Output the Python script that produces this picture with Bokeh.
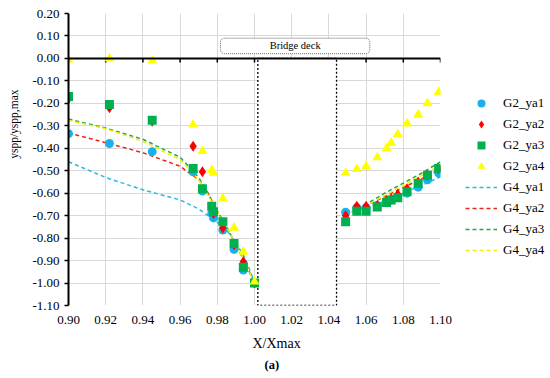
import math
from bokeh.plotting import figure
from bokeh.models import Range1d, FixedTicker, NumeralTickFormatter, Legend, LegendItem, Span, Title
from bokeh.core.properties import value
from bokeh.embed import file_html
from bokeh.resources import INLINE

# ---------------- data ----------------
x_g2_left = [0.900, 0.922, 0.945, 0.967, 0.972, 0.977, 0.978, 0.983, 0.989, 0.994, 1.000]
x_g2_right = [1.049, 1.055, 1.060, 1.066, 1.071, 1.0735, 1.077, 1.082, 1.088, 1.093, 1.099]

g2_ya1_left = [-0.335, -0.379, -0.415, -0.505, -0.59, -0.69, -0.71, -0.764, -0.85, -0.942, -1.00]
g2_ya1_right = [-0.685, -0.665, -0.665, -0.655, -0.640, -0.630, -0.620, -0.600, -0.573, -0.540, -0.510]
g2_ya2_left = [-0.18, -0.22, -0.28, -0.391, -0.504, -0.67, -0.69, -0.755, -0.83, -0.905, -1.00]
g2_ya2_right = [-0.700, -0.658, -0.658, -0.655, -0.635, -0.625, -0.605, -0.580, -0.550, -0.520, -0.490]
g2_ya3_left = [-0.17, -0.205, -0.275, -0.49, -0.58, -0.658, -0.683, -0.727, -0.824, -0.93, -1.00]
g2_ya3_right = [-0.727, -0.680, -0.680, -0.661, -0.641, -0.630, -0.620, -0.594, -0.557, -0.520, -0.490]
g2_ya4_left = [-0.005, 0.0, -0.01, -0.295, -0.413, -0.498, -0.51, -0.624, -0.754, -0.861, -0.994]
g2_ya4_right = [-0.510, -0.493, -0.479, -0.441, -0.400, -0.376, -0.338, -0.290, -0.250, -0.200, -0.150]

x_g4_left = [0.90, 0.92, 0.94, 0.96, 0.97, 0.975, 0.98, 0.985, 0.99, 0.995, 1.00]
x_g4_right = [1.049, 1.06, 1.07, 1.08, 1.09, 1.10]

g4_ya1_left = [-0.46, -0.53, -0.585, -0.63, -0.67, -0.70, -0.73, -0.765, -0.82, -0.89, -0.995]
g4_ya1_right = [-0.685, -0.665, -0.635, -0.600, -0.565, -0.527]
g4_ya2_left = [-0.332, -0.375, -0.42, -0.48, -0.54, -0.60, -0.68, -0.75, -0.83, -0.91, -1.00]
g4_ya2_right = [-0.700, -0.655, -0.615, -0.575, -0.535, -0.490]
g4_ya3_left = [-0.27, -0.31, -0.36, -0.44, -0.53, -0.60, -0.68, -0.75, -0.83, -0.91, -1.00]
g4_ya3_right = [-0.700, -0.650, -0.600, -0.555, -0.510, -0.460]
g4_ya4_left = [-0.276, -0.313, -0.37, -0.45, -0.54, -0.61, -0.68, -0.75, -0.83, -0.91, -1.00]
g4_ya4_right = [-0.700, -0.655, -0.610, -0.565, -0.520, -0.475]

x_ticks = [0.90, 0.92, 0.94, 0.96, 0.98, 1.00, 1.02, 1.04, 1.06, 1.08, 1.10]
y_ticks = [-1.10, -1.00, -0.90, -0.80, -0.70, -0.60, -0.50, -0.40, -0.30, -0.20, -0.10, 0.00, 0.10, 0.20]

deck_x = [1.0018, 1.0441]
deck_y = [-1.10, 0.0]
deck_label_box_x = [0.9817, 1.0620]
deck_label_box_y = [0.021, 0.090]
deck_label = "Bridge deck"

x_title = "X/Xmax"
y_title = "yspp/yspp,max"
panel_tag = "(a)"

FONT = "'Liberation Serif', 'Times New Roman', serif"

# ---------------- figure ----------------
p = figure(frame_width=372, frame_height=292,
           min_border_left=68, min_border_right=110, min_border_top=13, min_border_bottom=0,
           x_range=Range1d(0.90, 1.10), y_range=Range1d(-1.10, 0.20),
           output_backend="svg", toolbar_location=None)
p.outline_line_color = None
p.background_fill_color = "white"
p.border_fill_color = "white"

p.xaxis.ticker = FixedTicker(ticks=x_ticks)
p.yaxis.ticker = FixedTicker(ticks=y_ticks)
p.xaxis.formatter = NumeralTickFormatter(format="0.00")
p.yaxis.formatter = NumeralTickFormatter(format="0.00")
for ax in (p.xaxis, p.yaxis):
    ax.major_label_text_font = FONT
    ax.major_label_text_font_size = "13px"
    ax.major_label_text_color = "black"
    ax.minor_tick_line_color = None
p.xaxis.axis_line_color = None
p.xaxis.major_tick_line_color = None
p.xaxis.major_tick_out = 0
p.xaxis.major_tick_in = 0
p.xaxis.major_label_standoff = 10
p.yaxis.axis_line_color = "black"
p.yaxis.axis_line_width = 2
p.yaxis.major_tick_line_color = "black"
p.yaxis.major_tick_line_width = 1.5
p.yaxis.major_tick_out = 4
p.yaxis.major_tick_in = 0
p.yaxis.major_label_standoff = 5

p.xgrid.grid_line_color = "#D9D9D9"
p.ygrid.grid_line_color = "#D9D9D9"

# horizontal axis line at y = 0 with ticks
p.add_layout(Span(location=0, dimension="width", line_color="black", line_width=2))
p.segment(x0=x_ticks, y0=[0] * len(x_ticks), x1=x_ticks, y1=[-0.018] * len(x_ticks),
          line_color="black", line_width=1.5)

# bridge deck box
p.quad(left=deck_x[0], right=deck_x[1], bottom=deck_y[0], top=deck_y[1],
       fill_color="white", line_color="black", line_dash="2 2", line_width=1.3)
p.quad(left=deck_label_box_x[0], right=deck_label_box_x[1],
       bottom=deck_label_box_y[0], top=deck_label_box_y[1], border_radius=4,
       fill_color="white", line_color="#666666", line_dash="1 1", line_width=1)
p.text(x=[(deck_label_box_x[0] + deck_label_box_x[1]) / 2],
       y=[(deck_label_box_y[0] + deck_label_box_y[1]) / 2],
       text=[deck_label], text_font=value(FONT), text_font_size="10.5px",
       text_align="center", text_baseline="middle", text_color="black")

nan = float("nan")

def join(a, b):
    return a + [nan] + b

line_specs = [
    ("G4_ya1", g4_ya1_left, g4_ya1_right, "#2BB8E3"),
    ("G4_ya2", g4_ya2_left, g4_ya2_right, "#E8281C"),
    ("G4_ya3", g4_ya3_left, g4_ya3_right, "#21A845"),
    ("G4_ya4", g4_ya4_left, g4_ya4_right, "#F2F000"),
]
line_renderers = []
for name, yl, yr, col in line_specs:
    r = p.line(join(x_g4_left, x_g4_right), join(yl, yr), line_color=col,
               line_width=1.5, line_dash="4 3")
    line_renderers.append((name, r))

marker_specs = [
    ("G2_ya1", g2_ya1_left, g2_ya1_right, "#1CB0EA", "circle", 9),
    ("G2_ya2", g2_ya2_left, g2_ya2_right, "#FF0000", "diamond", 11),
    ("G2_ya3", g2_ya3_left, g2_ya3_right, "#00B050", "square", 9),
    ("G2_ya4", g2_ya4_left, g2_ya4_right, "#FFFF00", "triangle", 10),
]
marker_renderers = []
for name, yl, yr, col, mk, sz in marker_specs:
    r = p.scatter(x_g2_left + x_g2_right, yl + yr, marker=mk, size=sz,
                  fill_color=col, line_color=None)
    marker_renderers.append((name, r))

legend = Legend(items=[LegendItem(label=n, renderers=[r]) for n, r in marker_renderers + line_renderers],
                location=(25, 45), border_line_color=None, background_fill_alpha=0,
                padding=0, margin=0, spacing=1, label_height=20, glyph_height=20,
                glyph_width=32, label_standoff=6, label_text_font=FONT,
                label_text_font_size="13px", label_text_color="black")
p.add_layout(legend, "right")

# axis titles as side-panel titles
p.add_layout(Title(text=y_title, align="right", offset=76, vertical_align="top", standoff=15,
                   text_font=FONT, text_font_size="11.5px", text_font_style="normal",
                   text_color="black"), "left")
p.add_layout(Title(text=x_title, align="left", offset=184, vertical_align="bottom", standoff=14,
                   text_font=FONT, text_font_size="14px", text_font_style="normal",
                   text_color="black"), "below")
p.add_layout(Title(text=panel_tag, align="left", offset=196, vertical_align="top", standoff=0,
                   text_font=FONT, text_font_size="12.5px", text_font_style="bold",
                   text_color="black"), "below")

open("out.html", "w").write(file_html(p, INLINE))
